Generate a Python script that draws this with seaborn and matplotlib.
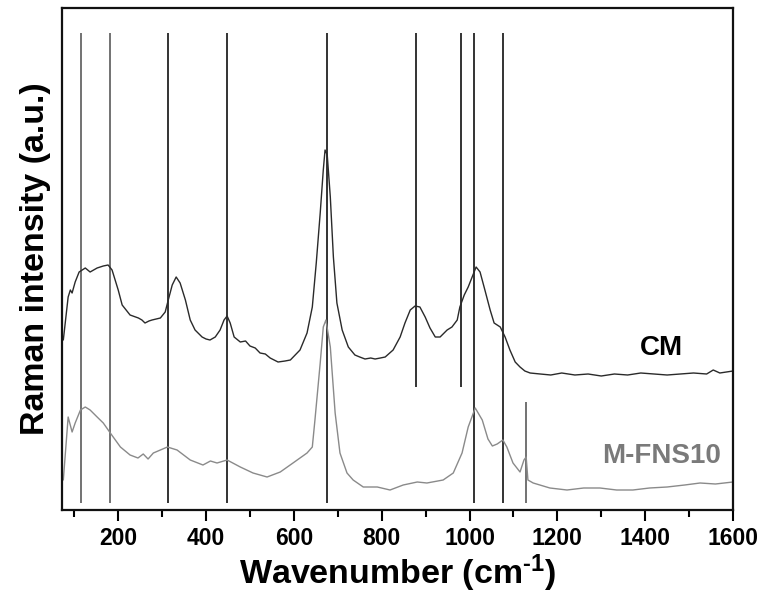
import numpy as np
import pandas as pd
import matplotlib
matplotlib.use("Agg")
import matplotlib.pyplot as plt
import seaborn as sns

# ---- data ----
cm_wn = [75, 86, 91, 95, 102, 111, 125, 136, 152, 166, 177, 186, 200, 209, 227, 246, 254, 261, 270, 277,
         296, 307, 314, 323, 332, 341, 353, 364, 375, 391, 400, 409, 421, 432, 441, 448, 455, 464,
         478, 490, 500, 512, 523, 535, 546, 564, 580, 592, 614, 630, 642, 651, 660, 667, 671, 676, 683, 690, 698,
         710, 724, 739, 750, 762, 775, 785, 797, 808, 826, 842, 853, 865, 876, 887, 899, 910, 922, 933, 949,
         960, 972, 978, 988, 997, 1006, 1015, 1024, 1035, 1047, 1056, 1070, 1081, 1092, 1104,
         1115, 1126, 1138, 1161, 1185, 1210, 1240, 1270, 1300, 1330, 1360, 1390, 1420, 1450,
         1480, 1510, 1540, 1555, 1570, 1600]
cm_int = [170, 213, 220, 217, 228, 238, 242, 238, 242, 244, 245, 240, 220, 205, 195, 192, 190, 187, 189, 190,
          192, 198, 210, 225, 233, 227, 210, 190, 180, 173, 171, 170, 173, 180, 190, 194, 187, 173,
          168, 169, 164, 162, 157, 156, 152, 148, 149, 150, 160, 177, 203, 247, 297, 340, 360, 355, 313, 253, 207,
          180, 163, 155, 153, 151, 152, 151, 152, 153, 160, 173, 187, 200, 204, 203, 193, 182, 173, 173, 180,
          183, 190, 203, 215, 223, 233, 243, 238, 220, 200, 187, 183, 173, 160, 148,
          143, 139, 137, 136, 135, 137, 135, 136, 134, 136, 135, 137, 136, 135,
          136, 137, 136, 140, 137, 139]

fns_wn = [75, 82, 86, 95, 102, 114, 125, 136, 152, 166, 182, 205, 227, 245, 257, 268, 280, 312, 334, 364,
          393, 410, 425, 448, 478, 507, 539, 569, 598, 630, 642, 648, 660, 667, 673, 683, 694, 705,
          721, 735, 758, 790, 819, 849, 881, 903, 940, 963, 983, 997, 1013, 1029, 1042, 1052, 1063,
          1076, 1085, 1099, 1115, 1124, 1129, 1133, 1145, 1183, 1222, 1260, 1297, 1335, 1372,
          1410, 1450, 1490, 1525, 1560, 1600]
fns_int = [30, 70, 93, 78, 87, 100, 103, 100, 93, 87, 77, 63, 55, 52, 56, 51, 57, 63, 60, 50,
           45, 49, 47, 50, 43, 37, 33, 38, 47, 57, 63, 90, 147, 183, 190, 163, 97, 57,
           37, 30, 23, 23, 20, 25, 28, 27, 30, 37, 57, 83, 102, 90, 71, 64, 66,
           70, 63, 47, 38, 50, 53, 30, 27, 22, 20, 22, 22, 20, 20,
           22, 23, 25, 27, 26, 28]

# reference lines (peak positions) and their vertical extents (intensity units)
line_pos = [115, 182, 313, 447, 675, 878, 981, 1010, 1076, 1128]
line_lo = [7, 7, 7, 7, 7, 123, 123, 7, 7, 7]
line_hi = [477, 477, 477, 477, 477, 477, 477, 477, 477, 108]
line_gray = [True, True, False, False, False, False, False, False, False, True]

labels = ["CM", "M-FNS10"]
x_ticks = [200, 400, 600, 800, 1000, 1200, 1400, 1600]

# ---- plot ----
sns.set_theme(style="ticks")
plt.rcParams["font.family"] = ["Liberation Sans", "DejaVu Sans"]
plt.rcParams["font.weight"] = "bold"
plt.rcParams["text.color"] = "black"
plt.rcParams["axes.labelcolor"] = "black"
plt.rcParams["xtick.color"] = "black"
plt.rcParams["xtick.labelcolor"] = "black"
plt.rcParams["mathtext.fontset"] = "custom"
plt.rcParams["mathtext.rm"] = "Liberation Sans:bold"
plt.rcParams["mathtext.bf"] = "Liberation Sans:bold"
plt.rcParams["mathtext.it"] = "Liberation Sans:bold"

fig = plt.figure(figsize=(7.64, 5.94), dpi=100)
ax = fig.add_axes([62 / 764, 1 - 510 / 594, (733 - 62) / 764, (510 - 8) / 594])

df = pd.concat([
    pd.DataFrame({"wn": cm_wn, "I": cm_int, "s": labels[0]}),
    pd.DataFrame({"wn": fns_wn, "I": fns_int, "s": labels[1]}),
])
sns.lineplot(data=df, x="wn", y="I", hue="s", palette={labels[0]: "#2a2a2a", labels[1]: "#8a8a8a"},
             linewidth=1.0, sort=False, estimator=None, legend=False, ax=ax)

for p, lo, hi, g in zip(line_pos, line_lo, line_hi, line_gray):
    ax.vlines(p, lo, hi, color="#5a5a5a" if g else "#111111", linewidth=1.2, zorder=1)

ax.text(1438, 162, labels[0], color="black", fontsize=20, fontweight="bold", ha="center", va="center")
ax.text(1438, 54, labels[1], color="#7a7a7a", fontsize=20, fontweight="bold", ha="center", va="center")

ax.set_xlim(72, 1600)
ax.set_ylim(0, 502)
ax.set_xticks(x_ticks)
ax.set_xticks(np.arange(100, 1600, 200), minor=True)
ax.set_xticklabels([str(t) for t in x_ticks], fontsize=16.5, fontweight="bold", color="black")
ax.set_yticks([])
ax.tick_params(axis="x", which="major", length=8, width=1.5, direction="out", pad=4, color="black")
ax.tick_params(axis="x", which="minor", length=5, width=1.5, direction="out", color="black")
for s in ax.spines.values():
    s.set_linewidth(1.6)
    s.set_color("#111111")
    s.set_visible(True)

ax.set_xlabel("Wavenumber (cm$^{\\mathrm{\u2010}\\mathrm{1}}$)", fontsize=24.5, fontweight="bold",
              labelpad=2, color="black")
ax.set_ylabel("Raman intensity (a.u.)", fontsize=24.5, fontweight="bold", labelpad=8, color="black")

fig.savefig("out.png", dpi=100, facecolor="white")
